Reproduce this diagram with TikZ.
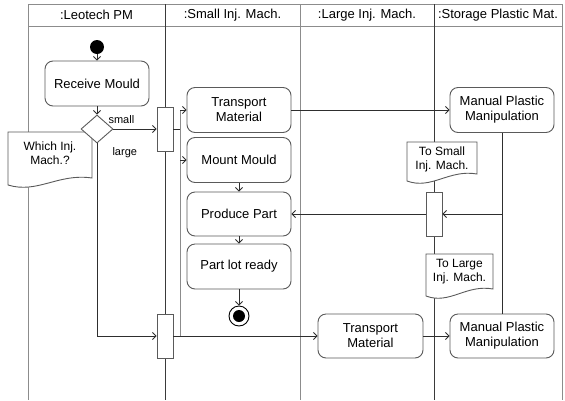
\documentclass[tikz,border=0pt]{standalone}
\usepackage{fontspec}
\setmainfont{Liberation Sans}
\usetikzlibrary{arrows.meta,shapes.geometric}
\definecolor{lanegray}{HTML}{8C8C8C}
\definecolor{lanedark}{HTML}{3A3A3A}
\definecolor{edgegray}{HTML}{5A5A5A}
\definecolor{flowcol}{HTML}{2E2E2E}
% document-shaped note with a wavy lower edge: left, top, right, bottom
\newcommand\wavynote[4]{%
  \draw[notebody] (#1,#2) -- (#3,#2) -- ({#3},{#4-7})
    .. controls ({#1+0.6*(#3-#1)},{#4-12}) and ({#1+0.35*(#3-#1)},{#4+9}) .. (#1,#4) -- cycle;}
\begin{document}
\begin{tikzpicture}[x=1pt,y=-1pt,
  action/.style={draw=edgegray, line width=0.9pt, rounded corners=8pt, fill=white,
    align=center, font=\fontsize{13}{15}\selectfont, minimum width=104pt,
    minimum height=45pt, inner sep=2pt},
  syncbar/.style={draw=edgegray, line width=0.9pt, fill=white, minimum width=16pt,
    minimum height=44pt, inner sep=0pt},
  flow/.style={draw=flowcol, line width=0.8pt, -{Straight Barb[length=3.5pt,width=7pt]}},
  plain/.style={draw=flowcol, line width=0.8pt},
  lanelight/.style={draw=lanegray, line width=0.9pt},
  lanestrong/.style={draw=lanedark, line width=0.9pt},
  lanehead/.style={font=\fontsize{13}{15}\selectfont},
  guard/.style={font=\fontsize{11}{13}\selectfont},
  notetext/.style={font=\fontsize{12}{14}\selectfont, align=center},
  notebody/.style={draw=edgegray, line width=0.9pt, fill=white},
]
\useasboundingbox (0,0) rectangle (565,400);
\fill[white] (0,0) rectangle (565,400);

% swimlane frame and dividers
\draw[lanelight] (28,4) -- (562,4);
\draw[lanelight] (28,26) -- (562,26);
\draw[lanelight] (28,4) -- (28,400);
\draw[lanestrong] (165,4) -- (165,400);
\draw[lanelight] (300,4) -- (300,400);
\draw[lanestrong] (434,4) -- (434,400);
\draw[lanelight] (562,4) -- (562,400);

\node[lanehead] (h1) at (96.5,15) {:Leotech PM};
\node[lanehead] (h2) at (232.5,15) {:Small Inj. Mach.};
\node[lanehead] (h3) at (367,15) {:Large Inj. Mach.};
\node[lanehead] (h4) at (498,15) {:Storage Plastic Mat.};

% fork line feeding the small machine actions
\coordinate (split) at (180,129);
\coordinate (splitTop) at (180,110);
\coordinate (splitMid) at (180,160);
\coordinate (splitBot) at (180,336);
\draw[lanelight] (splitTop) -- (splitBot);

% notes
\wavynote{8}{132}{92}{185}
\node[notetext] (qnote) at (50,153) {Which Inj.\\Mach.?};
\wavynote{407}{142}{477}{181}
\node[notetext] (snote) at (442,159) {To Small\\Inj. Mach.};
\wavynote{426}{254}{493}{296}
\node[notetext] (lnote) at (459.5,272) {To Large\\Inj. Mach.};

% nodes
\node[circle, fill=black, minimum size=14pt, inner sep=0pt] (start) at (97,47) {};
\node[action] (recv) at (97,83.5) {Receive Mould};
\node[diamond, draw=edgegray, fill=white, line width=0.9pt, minimum width=32pt,
  minimum height=28pt, inner sep=0pt] (dec) at (97,129) {};
\node[syncbar] (fork1) at (165,129) {};
\node[syncbar] (fork2) at (165,336) {};
\node[syncbar] (join) at (434,214) {};

\node[action] (tmS) at (239,110) {Transport\\Material};
\node[action] (mm) at (239,160) {Mount Mould};
\node[action, minimum height=44pt] (produce) at (239,214) {Produce Part};
\node[action] (lot) at (239,266.5) {Part lot ready};
\node[circle, draw=black, line width=0.9pt, fill=white, minimum size=20pt, inner sep=0pt] (final) at (239,316) {};
\fill[black] (final.center) circle[radius=6pt];

\node[action] (mpmS) at (502,110) {Manual Plastic\\Manipulation};
\node[action, minimum width=105pt, minimum height=44pt] (tmL) at (370.5,336) {Transport\\Material};
\node[action, minimum height=44pt] (mpmL) at (502,336) {Manual Plastic\\Manipulation};

% guards
\node[guard, anchor=west] (gsmall) at (105,120) {small};
\node[guard, anchor=west] (glarge) at (109,153) {large};

% control flows
\draw[flow] (start) -- (recv);
\draw[flow] (recv) -- (dec);
\draw[flow] (dec) -- (fork1);
\draw[flow] (dec.south) -- (dec.south |- fork2) -- (fork2);
\draw[plain] (fork1.east) -- (split);
\draw[flow] (splitTop) -- (tmS.west |- splitTop);
\draw[flow] (splitMid) -- (mm.west |- splitMid);
\draw[flow] (mm) -- (produce);
\draw[flow] (produce) -- (lot);
\draw[flow] (lot) -- (final);
\draw[flow] (tmS) -- (mpmS);
\draw[plain] (mpmS.south) -- (mpmL.north);
\draw[flow] (mpmS.south |- join) -- (join);
\draw[flow] (join) -- (produce);
\draw[flow] (fork2) -- (tmL);
\draw[flow] (tmL) -- (mpmL);
\end{tikzpicture}
\end{document}
